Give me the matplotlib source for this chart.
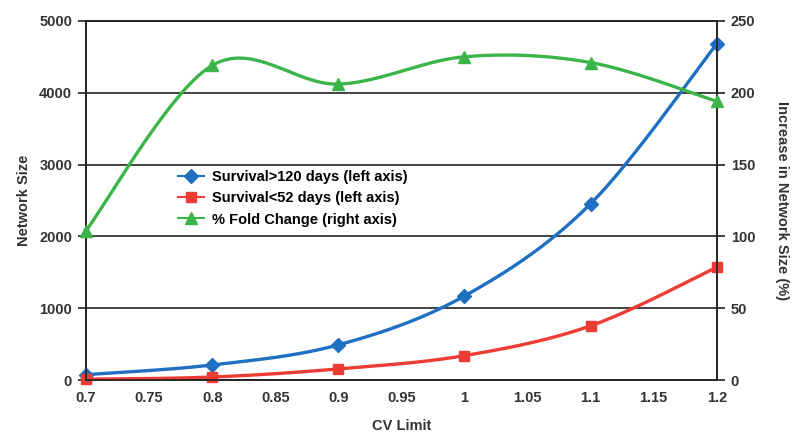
import numpy as np
import matplotlib.pyplot as plt

plt.rcParams['font.family'] = ['Liberation Sans', 'DejaVu Sans']
plt.rcParams['font.weight'] = 'bold'
plt.rcParams['axes.labelweight'] = 'bold'

# Data
cv_limit = [0.7, 0.8, 0.9, 1.0, 1.1, 1.2]
surv_long = [75, 210, 490, 1170, 2455, 4680]
surv_short = [12, 42, 155, 340, 755, 1570]
fold_change = [104, 219, 206, 225, 221, 194]

blue = '#1f6fc3'
red = '#ee3b34'
green = '#3bb54a'


def smooth(x, y, n=40):
    # Catmull-Rom style smoothing, like a spreadsheet "smoothed line"
    x = np.asarray(x, float)
    y = np.asarray(y, float)
    px = np.concatenate([[x[0]], x, [x[-1]]])
    py = np.concatenate([[y[0]], y, [y[-1]]])
    xs, ys = [], []
    t = np.linspace(0, 1, n)
    for i in range(1, len(px) - 2):
        p0, p1, p2, p3 = (np.array([px[j], py[j]]) for j in (i - 1, i, i + 1, i + 2))
        c1 = p1 + (p2 - p0) / 6
        c2 = p2 - (p3 - p1) / 6
        pts = ((1 - t) ** 3)[:, None] * p1 + (3 * (1 - t) ** 2 * t)[:, None] * c1 \
            + (3 * (1 - t) * t ** 2)[:, None] * c2 + (t ** 3)[:, None] * p2
        xs.extend(pts[:, 0])
        ys.extend(pts[:, 1])
    return xs, ys


fig, ax = plt.subplots(figsize=(8, 4.44), dpi=100)
fig.subplots_adjust(left=0.1075, right=0.896, bottom=0.144, top=0.953)
ax2 = ax.twinx()

for yv, col, mk, ms, lab, a in [
    (surv_long, blue, 'D', 7, 'Survival>120 days (left axis)', ax),
    (surv_short, red, 's', 7.5, 'Survival<52 days (left axis)', ax),
    (fold_change, green, '^', 9, '% Fold Change (right axis)', ax2),
]:
    sx, sy = smooth(cv_limit, yv)
    a.plot(sx, sy, color=col, lw=2.4, clip_on=False, zorder=3)
    a.plot(cv_limit, yv, color=col, lw=0, marker=mk, ms=ms, clip_on=False, zorder=4)
    a.plot([], [], color=col, lw=1.5, marker=mk, ms=ms, label=lab)

ax.set_xlim(0.7, 1.2)
ax.set_ylim(0, 5000)
ax2.set_ylim(0, 250)
ax.set_xticks(np.arange(0.7, 1.2001, 0.05))
ax.set_xticklabels(['0.7', '0.75', '0.8', '0.85', '0.9', '0.95', '1', '1.05', '1.1', '1.15', '1.2'])
ax.set_yticks(range(0, 5001, 1000))
ax2.set_yticks(range(0, 251, 50))

ax.yaxis.grid(True, color='#222222', lw=1.2)
ax.set_axisbelow(True)
for a in (ax, ax2):
    for s in a.spines.values():
        s.set_color('#222222')
        s.set_linewidth(1.2)
    a.tick_params(axis='y', length=6, width=1.2, colors='#222222', labelsize=10.5, labelcolor='#333333', pad=4)
    a.tick_params(axis='x', length=0, labelsize=10.5, labelcolor='#333333', pad=8)

ax.set_xlabel('CV Limit', fontsize=10.5, color='#333333', labelpad=10)
ax.set_ylabel('Network Size', fontsize=10.5, color='#333333', labelpad=6)
ax2.set_ylabel('Increase in Network Size (%)', fontsize=10.5, color='#333333', rotation=270, labelpad=24)

h1, l1 = ax.get_legend_handles_labels()
h2, l2 = ax2.get_legend_handles_labels()
ax2.legend(h1 + h2, l1 + l2, loc='upper left', bbox_to_anchor=(0.146, 0.585), frameon=False,
           fontsize=10.5, handlelength=1.8, handletextpad=0.5, labelspacing=0.5,
           borderaxespad=0, borderpad=0)

plt.savefig('out.png', dpi=100)
